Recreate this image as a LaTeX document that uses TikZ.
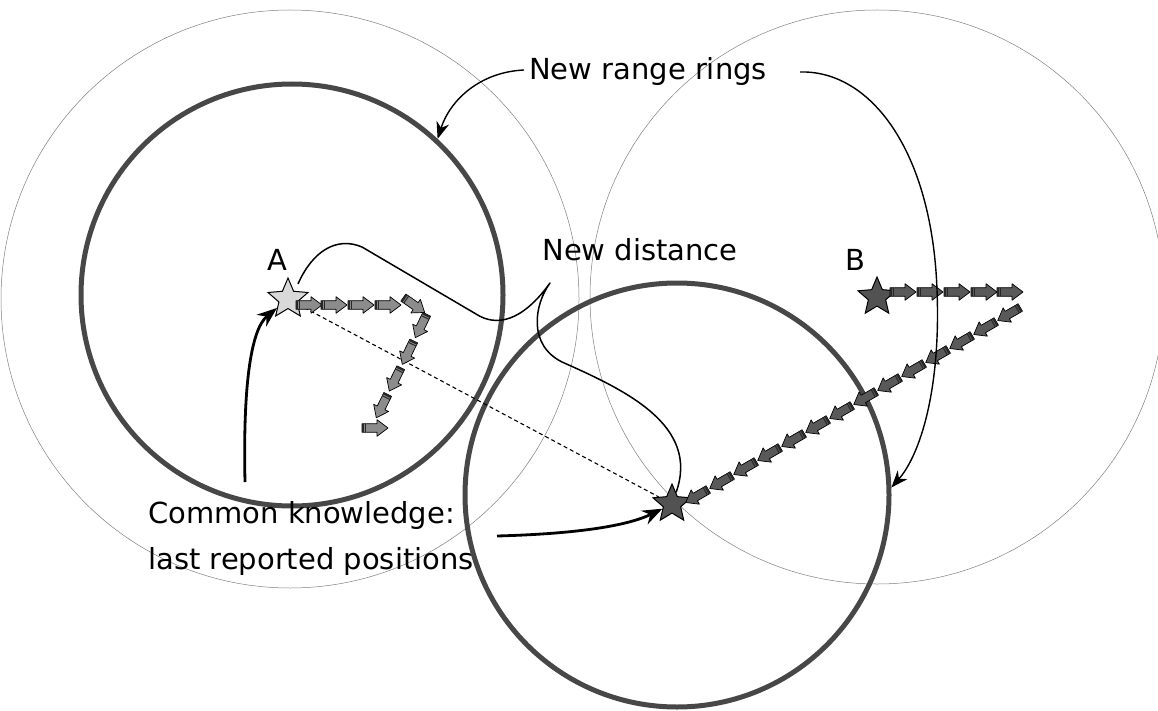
\documentclass[tikz,border=0pt]{standalone}
\usepackage{fontspec}
\setmainfont{DejaVu Sans}
\usetikzlibrary{shapes.geometric,arrows.meta}
\tikzset{
  pics/blk/.style={code={
    \draw[fill=#1, line width=0.7pt, line join=round] (-13,-4.3) -- (2,-4.3) -- (2,-8.3) -- (13,0) -- (2,8.3) -- (2,4.3) -- (-13,4.3) -- cycle;
    \fill[black!85] (-13,-4.3) rectangle (-11,4.3);
    \fill[black!85] (-10,-4.3) rectangle (-9,4.3);
  }}
}
\begin{document}
\begin{tikzpicture}[x=1pt,y=-1pt,
  lbl/.style={font=\fontsize{29}{38}\selectfont, inner sep=0pt},
  thinring/.style={circle, draw=black!50, line width=0.5pt, inner sep=0pt},
  thickring/.style={circle, draw=black!72, line width=5pt, inner sep=0pt},
  posstar/.style={star, star points=5, star point ratio=2.2, minimum size=42pt, inner sep=0pt, draw=black, line width=1pt},
  callout/.style={draw=black, line width=1.5pt, line join=round},
  pointer/.style={draw=black, line width=1.4pt, -{Stealth[length=17pt,width=13pt]}},
  boldpointer/.style={draw=black, line width=2.8pt, -{Stealth[length=20pt,width=15pt]}}
]
\useasboundingbox (0,0) rectangle (1158,711);
\fill[white] (0,0) rectangle (1158,711);

% thin range rings
\node[thinring, minimum size=578pt] (ringAo) at (290,299) {};
\node[thinring, minimum size=574pt] (ringBo) at (877,297) {};
% thick new range rings
\node[thickring, minimum size=422pt] (ringA) at (292,295) {};
\node[thickring, minimum size=424pt] (ringC) at (677,495) {};

% stars (positions)
\node[posstar, fill=black!15] (A) at (288,299) {};
\node[posstar, fill=black!68, minimum size=40pt] (B) at (877,297) {};
\node[posstar, fill=black!68, minimum size=40pt] (C) at (672,504) {};

% dashed distance line
\draw[dashed, line width=1.1pt, dash pattern=on 4pt off 3pt] (A) -- (C);

% track of A
\foreach \x in {309,334,361,388} \pic at (\x,305) {blk=black!45};
\pic[rotate=-35] at (414,305) {blk=black!45};
\foreach \i in {0,1,2,3} \pic[rotate=244] at ({421-13*\i},{326+26.7*\i}) {blk=black!45};
\pic at (375,428) {blk=black!45};

% track of B
\foreach \x in {903,930,957,984,1010} \pic at (\x,292) {blk=black!65};
\foreach \i in {0,...,13} \pic[rotate=210] at ({1009-24*\i},{314+14*\i}) {blk=black!65};

% texts
\node[lbl] (rr) at (648,72) {New range rings};
\node[lbl] (nd) at (640,250) {New distance};
\node[lbl] (la) at (277,260) {A};
\node[lbl] (lb) at (855,260) {B};
\node[lbl, anchor=base west] (ck1) at (148,523) {Common knowledge:};
\node[lbl, anchor=base west] (ck2) at (148,569) {last reported positions};

% pointers from "New range rings"
\coordinate (rrL) at (524,70);
\coordinate (rrR) at (800,72);
\draw[pointer] (rrL) .. controls (480,72) and (450,100) .. (ringA.47);
\draw[pointer] (rrR) .. controls (870,70) and (932,150) .. (937,290) .. controls (941,390) and (920,455) .. (ringC.2);

% "New distance" callout
\coordinate (ndA) at (298,284);
\coordinate (ndTip) at (550,283);
\draw[callout] (ndA) .. controls (312,252) and (336,236) .. (362,247) -- (476,314) .. controls (496,327) and (522,322) .. (ndTip)
  .. controls (534,305) and (528,345) .. (562,362) .. controls (625,390) and (700,425) .. (C);

% common knowledge pointers
\coordinate (ckUp) at (245,482);
\coordinate (ckRt) at (497,536);
\draw[boldpointer] (ckUp) .. controls (243,390) and (250,330) .. (A);
\draw[boldpointer] (ckRt) .. controls (570,534) and (625,527) .. (C);
\end{tikzpicture}
\end{document}
